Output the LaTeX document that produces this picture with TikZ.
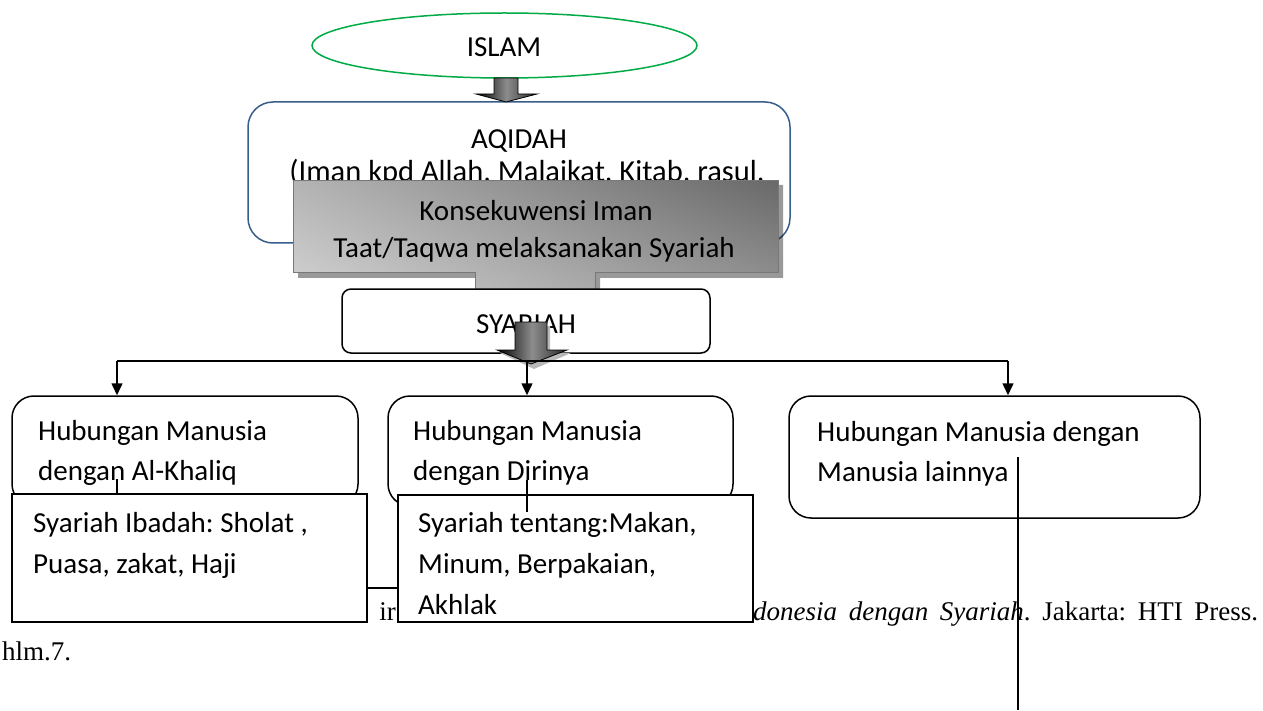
\documentclass[tikz,border=0pt]{standalone}
\usepackage{fontspec}
\setmainfont{Carlito}
\newfontfamily\citefont{Liberation Serif}
\usetikzlibrary{arrows.meta,shapes.geometric,shadings}
\definecolor{islamgreen}{RGB}{0,170,70}
\definecolor{aqblue}{RGB}{56,93,138}
\definecolor{cgUL}{RGB}{180,180,180}
\definecolor{cgUR}{RGB}{105,105,105}
\definecolor{cgLL}{RGB}{212,212,212}
\definecolor{cgLR}{RGB}{150,150,150}
\definecolor{cgborder}{RGB}{120,120,120}
\newcommand\myfs{\frenchspacing\fontsize{29}{41}\selectfont}
\newcommand\mycite{\frenchspacing\citefont\fontsize{27}{30}\selectfont}
\tikzset{
  rbox/.style={draw=black, line width=1.5pt, fill=white, rounded corners=22pt, inner sep=0pt},
  sbox/.style={draw=black, line width=1.5pt, fill=white, inner sep=0pt},
  txt/.style={inner sep=0pt, font=\myfs, anchor=base west},
  ctxt/.style={inner sep=0pt, font=\myfs, anchor=base},
  conn/.style={line width=1.5pt},
  arr/.style={conn, -{Triangle[length=12pt,width=11pt]}},
  blockarrow/.style={draw=black, line width=0.8pt, shading=axis, left color=black, right color=black!85, middle color=gray!90},
}
\begin{document}
\begin{tikzpicture}[x=1pt,y=-1pt]
\useasboundingbox (0,0) rectangle (1263,711);
\fill[white] (0,0) rectangle (1263,711);

% ISLAM ellipse
\node[draw=islamgreen, line width=1.5pt, ellipse, minimum width=385pt, minimum height=65pt, inner sep=0pt] (islam) at (504.5,45.5) {};
\node[ctxt] (islamt) at (504,57) {ISLAM};

% AQIDAH box
\node[draw=aqblue, line width=1.5pt, fill=white, rounded corners=25pt, minimum width=542pt, minimum height=141pt, inner sep=0pt] (aqidah) at (519,172.5) {};
\node[ctxt] (aqt1) at (519,149) {AQIDAH};
\node[ctxt, font=\frenchspacing\fontsize{30.5}{41}\selectfont] (aqt2) at (527,182) {(Iman kpd Allah, Malaikat, Kitab, rasul,};

% block arrow ISLAM -> AQIDAH
\draw[blockarrow] (494,78) -- (518,78) -- (518,94) -- (537,94) -- (506,102) -- (476,94) -- (494,94) -- cycle;

% grey callout (shadow then body)
\fill[black, opacity=0.4] (298,185) -- (783,185) -- (783,278) -- (600,278) -- (600,300) -- (480,300) -- (480,278) -- (298,278) -- cycle;
\path[draw=cgborder, line width=1pt, shading=bilinear interpolation,
  upper left=cgUL, upper right=cgUR, lower left=cgLL, lower right=cgLR]
  (293,181) -- (778,181) -- (778,273) -- (595,273) -- (595,300) -- (475,300) -- (475,273) -- (293,273) -- cycle;
\node[ctxt] (kt1) at (536,221) {Konsekuwensi Iman};
\node[ctxt] (kt2) at (534,258) {Taat/Taqwa melaksanakan Syariah};

% SYARIAH box
\node[draw=black, line width=1.5pt, fill=white, rounded corners=9pt, minimum width=368pt, minimum height=64pt, inner sep=0pt] (syariah) at (526,321) {};
\node[ctxt] (syt) at (526,333) {SYARIAH};

% block arrow over SYARIAH (with soft shadow)
\fill[gray!55] (518,326) -- (550,326) -- (550,353) -- (571,353) -- (534,369) -- (500,353) -- (518,353) -- cycle;
\draw[blockarrow] (515,322) -- (547,322) -- (547,350) -- (567,350) -- (531,364) -- (497,350) -- (515,350) -- cycle;

% bus and arrows
\coordinate (b1) at (117,361);
\coordinate (b2) at (527,361);
\coordinate (b3) at (1008,361);

% Hubungan boxes
\node[rbox, minimum width=346pt, minimum height=110pt] (h1) at (185,451) {};
\node[rbox, minimum width=345pt, minimum height=110pt] (h2) at (560.5,451) {};
\node[rbox, minimum width=411pt, minimum height=122pt] (h3) at (994.5,457) {};

\draw[conn] (b1) -- (b3);
\draw[arr] (b1) -- (b1 |- h1.north);
\draw[arr] (b2) -- (b2 |- h2.north);
\draw[arr] (b3) -- (b3 |- h3.north);

\node[txt] (h1t1) at (38,440) {Hubungan Manusia};
\node[txt] (h1t2) at (38,480) {dengan Al-Khaliq};
\node[txt] (h2t1) at (413,440) {Hubungan Manusia};
\node[txt] (h2t2) at (413,480) {dengan Dirinya};
\node[txt] (h3t1) at (817,441) {Hubungan Manusia dengan};
\node[txt] (h3t2) at (817,481) {Manusia lainnya};

% citation fragments (visible parts)
\node[inner sep=0pt, anchor=base east, font=\mycite] (cit1) at (396,620) {ir};
\node[inner sep=0pt, anchor=base west, font=\mycite] (cit2) at (753,620) {\hbox to 505pt{\itshape donesia dengan Syariah\/\upshape. Jakarta: HTI Press.}};
\node[inner sep=0pt, anchor=base west, font=\mycite] (cit3) at (2,660) {hlm.7.};

% connector inside box 1
\coordinate (c1) at (117,479);
\draw[conn] (c1) -- (c1 |- 0,494);

% Syariah detail boxes
\node[sbox, minimum width=355pt, minimum height=128pt] (i1) at (189.5,558) {};
\node[sbox, minimum width=355pt, minimum height=127pt] (i2) at (575.5,558.5) {};

\node[txt] (i1t1) at (33,532) {Syariah Ibadah: Sholat ,};
\node[txt] (i1t2) at (33,573) {Puasa, zakat, Haji};
\node[txt] (i2t1) at (418,532) {Syariah tentang:Makan,};
\node[txt] (i2t2) at (418,573) {Minum, Berpakaian,};
\node[txt] (i2t3) at (418,614) {Akhlak};

\coordinate (c2) at (527,480);
\draw[conn] (c2) -- (527,512);
\coordinate (c4) at (0,588);
\draw[conn] (i1.east |- c4) -- (i2.west |- c4);
\coordinate (c3) at (1018,457);
\coordinate (c3e) at (1018,710);
\draw[conn] (c3) -- (c3e);
\end{tikzpicture}
\end{document}
